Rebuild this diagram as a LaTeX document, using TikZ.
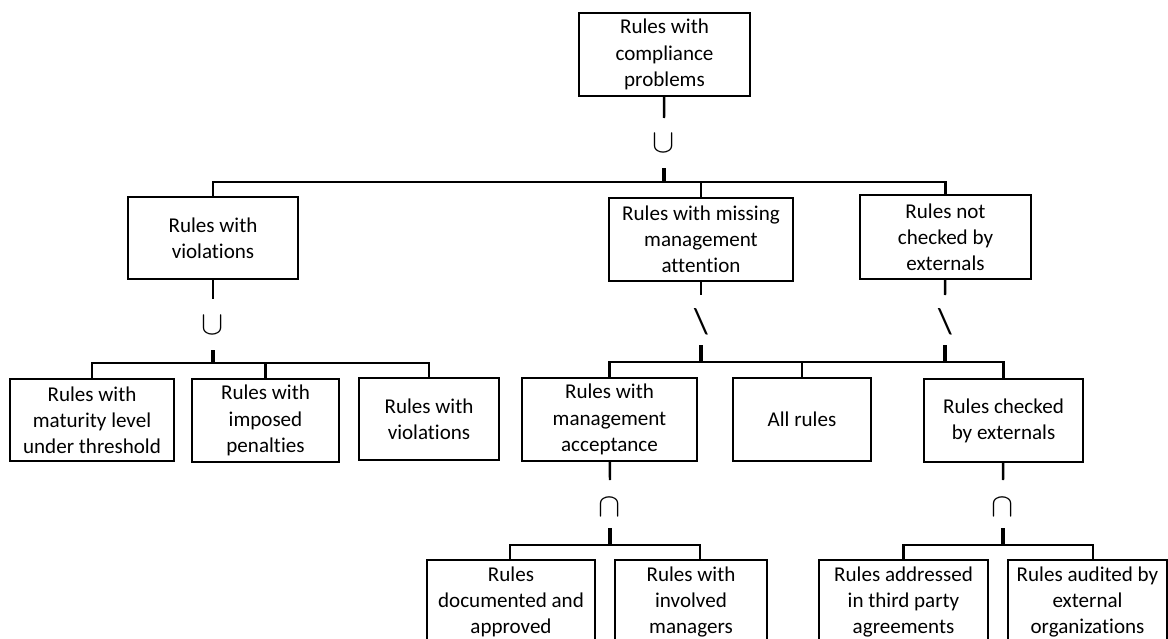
\documentclass[tikz,border=0pt]{standalone}
\usepackage{fontspec}
\setmainfont{Carlito}[Ligatures=NoCommon]
\begin{document}
\begin{tikzpicture}[x=0.75pt,y=-0.75pt,
  box/.style={draw, line width=1.85pt, align=center, inner sep=0pt,
    font=\fontsize{15.8}{19.6}\selectfont},
  link/.style={line width=1.85pt},
  heavy/.style={line width=2.6pt},
  op/.style={inner sep=0pt, font=\fontsize{23}{23}\selectfont},
  bs/.style={inner sep=0pt, font=\fontsize{27}{27}\selectfont}]
\useasboundingbox (0,0) rectangle (1168,639);
\clip (0,0) rectangle (1168,639);

% level 0
\node[box, minimum width=171*0.75pt, minimum height=83*0.75pt] (top) at (664.5,54.5)
  {Rules with\\compliance\\problems};

% level 1
\node[box, minimum width=170*0.75pt, minimum height=82*0.75pt] (viol) at (213,238)
  {Rules with\\violations};
\node[box, minimum width=184*0.75pt, minimum height=83*0.75pt] (miss) at (701,239.5)
  {Rules with missing\\management\\attention};
\node[box, minimum width=171*0.75pt, minimum height=84*0.75pt] (notchk) at (945.5,237)
  {Rules not\\checked by\\externals};

% level 2
\node[box, minimum width=164*0.75pt, minimum height=82*0.75pt] (mat) at (92,420)
  {Rules with\\maturity level\\under threshold};
\node[box, minimum width=147*0.75pt, minimum height=83*0.75pt] (pen) at (265.5,420.5)
  {Rules with\\imposed\\penalties};
\node[box, minimum width=140*0.75pt, minimum height=82*0.75pt] (viol2) at (429,419)
  {Rules with\\violations};
\node[box, minimum width=175*0.75pt, minimum height=83*0.75pt] (acc) at (609.5,419.5)
  {Rules with\\management\\acceptance};
\node[box, minimum width=138*0.75pt, minimum height=83*0.75pt] (all) at (802,419.5)
  {All rules};
\node[box, minimum width=159*0.75pt, minimum height=83*0.75pt] (chk) at (1003.5,420.5)
  {Rules checked\\by externals};

% level 3
\node[box, minimum width=168*0.75pt, minimum height=84*0.75pt] (doc) at (511,602)
  {Rules\\documented and\\approved};
\node[box, minimum width=152*0.75pt, minimum height=84*0.75pt] (inv) at (691,602)
  {Rules with\\involved\\managers};
\node[box, minimum width=169*0.75pt, minimum height=84*0.75pt] (addr) at (903.5,602)
  {Rules addressed\\in third party\\agreements};
\node[box, minimum width=159*0.75pt, minimum height=84*0.75pt] (aud) at (1087.5,602)
  {Rules audited by\\external\\organizations};

% set operators
\node[op] (o1) at (664,143) {$\cup$};
\node[op] (o2) at (213,325) {$\cup$};
\node[bs] (o3) at (701,322) {\textbackslash};
\node[bs] (o4) at (945,322) {\textbackslash};
\node[op] (o5) at (610,507) {$\cap$};
\node[op] (o6) at (1003,507) {$\cap$};

% line ends around the operators and bus junctions
\coordinate (a1) at (664,118); \coordinate (c1) at (664,168); \coordinate (j1) at (664,182);
\coordinate (a2) at (213,299); \coordinate (c2) at (213,350); \coordinate (j2) at (213,363);
\coordinate (a3) at (701,295); \coordinate (c3) at (701,345); \coordinate (j3) at (701,362);
\coordinate (a4) at (945,295); \coordinate (c4) at (945,345); \coordinate (j4) at (945,362);
\coordinate (a5) at (610,480); \coordinate (c5) at (610,528); \coordinate (j5) at (610,545);
\coordinate (a6) at (1003,480); \coordinate (c6) at (1003,528); \coordinate (j6) at (1003,545);

% union of the three problem sets
\draw[link] (top) -- (a1);
\draw[heavy] (c1) -- (j1);
\draw[link] (j1) -| (viol.north);
\draw[link] (j1) -| (miss.north);
\draw[link] (j1) -| (notchk.north);

% union for violations
\draw[link] (viol) -- (a2);
\draw[heavy] (c2) -- (j2);
\draw[link] (j2) -| (mat.north);
\draw[link] (j2) -| (pen.north);
\draw[link] (j2) -| (viol2.north);

% differences sharing "All rules"
\draw[link] (miss) -- (a3);
\draw[heavy] (c3) -- (j3);
\draw[link] (notchk) -- (a4);
\draw[heavy] (c4) -- (j4);
\draw[link] (j3) -| (acc.north);
\draw[link] (j3) -| (all.north);
\draw[link] (j4) -| (all.north);
\draw[link] (j4) -| (chk.north);

% intersections
\draw[link] (acc) -- (a5);
\draw[heavy] (c5) -- (j5);
\draw[link] (j5) -| ([xshift=-0.75pt]doc.north);
\draw[link] (j5) -| ([xshift=6.75pt]inv.north);
\draw[link] (chk) -- (a6);
\draw[heavy] (c6) -- (j6);
\draw[link] (j6) -| (addr.north);
\draw[link] (j6) -| ([xshift=4.1pt]aud.north);
\end{tikzpicture}
\end{document}
